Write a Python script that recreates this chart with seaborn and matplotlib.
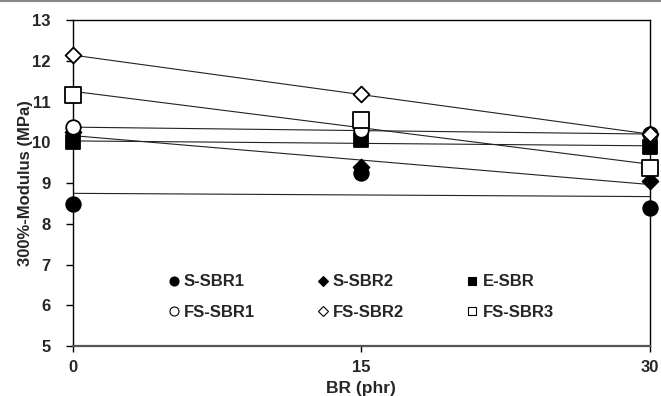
import numpy as np
import pandas as pd
import matplotlib
matplotlib.use("Agg")
import matplotlib.pyplot as plt
import seaborn as sns
from matplotlib.lines import Line2D

br = [0, 15, 30]
s_sbr1 = [8.48, 9.25, 8.40]
s_sbr2 = [10.25, 9.40, 9.05]
e_sbr = [10.00, 10.05, 9.88]
fs_sbr1 = [10.37, 10.30, 10.20]
fs_sbr2 = [12.14, 11.18, 10.20]
fs_sbr3 = [11.16, 10.55, 9.37]

names = ["S-SBR1", "S-SBR2", "E-SBR", "FS-SBR1", "FS-SBR2", "FS-SBR3"]
series = [s_sbr1, s_sbr2, e_sbr, fs_sbr1, fs_sbr2, fs_sbr3]
markers = ["o", "D", "s", "o", "D", "s"]
fills = ["black", "black", "black", "white", "white", "white"]
sizes = [110, 65, 110, 110, 65, 130]
leg_ms = [6.5, 4.8, 6.2, 6.5, 4.8, 6.2]

sns.set_style("white")
plt.rcParams['font.family'] = ['Liberation Sans', 'DejaVu Sans']
plt.rcParams['font.weight'] = 'bold'

fig = plt.figure(figsize=(6.61, 3.96), dpi=100)
ax = fig.add_axes([0.110, 0.126, 0.873, 0.823])

for name, vals in zip(names, series):
    df = pd.DataFrame({"BR": br, "Mod": vals})
    sns.regplot(data=df, x="BR", y="Mod", ax=ax, scatter=False, ci=None,
                truncate=True, line_kws=dict(color="#222222", lw=0.8))

handles = []
for name, vals, m, fc, sz, lms in zip(names, series, markers, fills, sizes, leg_ms):
    df = pd.DataFrame({"BR": br, "Mod": vals})
    sns.scatterplot(data=df, x="BR", y="Mod", ax=ax, marker=m, s=sz,
                    color=fc, edgecolor="black", linewidth=1.3, clip_on=False,
                    zorder=5, legend=False)
    handles.append(Line2D([], [], ls="none", marker=m, markersize=lms,
                          markerfacecolor=fc, markeredgecolor="black",
                          markeredgewidth=0.8, label=name))

ax.set_xlim(0, 30)
ax.set_ylim(5, 13)
ax.set_xticks([0, 15, 30])
ax.set_yticks(range(5, 14))
ax.tick_params(axis="y", labelsize=12, length=5, width=1, color="black",
               direction="out", left=True, pad=11)
ax.tick_params(axis="x", labelsize=12, length=4, width=1, color="black",
               direction="out", bottom=True, pad=6)
for lab in ax.get_xticklabels() + ax.get_yticklabels():
    lab.set_fontweight("bold")
ax.set_xlabel("BR (phr)", fontsize=12.5, fontweight="bold")
ax.set_ylabel("300%-Modulus (MPa)", fontsize=12, fontweight="bold")
ax.xaxis.set_label_coords(0.5, -0.108)
ax.yaxis.set_label_coords(-0.069, 0.5)
for sp in ax.spines.values():
    sp.set_color("black")
    sp.set_linewidth(1.0)
ax.spines["bottom"].set_color("#555555")
ax.spines["bottom"].set_linewidth(1.6)

order = [0, 3, 1, 4, 2, 5]
leg = ax.legend(handles=[handles[i] for i in order], ncol=3, frameon=False,
                loc="upper left", bbox_to_anchor=(0.166, 0.22),
                borderpad=0, borderaxespad=0, handlelength=0.6,
                handletextpad=0.3, columnspacing=3.8, labelspacing=0.95,
                prop=dict(weight="bold", size=12))

fig.add_artist(Line2D([0, 1], [0.997, 0.997], color="#888888", lw=1.5,
                      transform=fig.transFigure))

fig.savefig("out.png", dpi=100)
